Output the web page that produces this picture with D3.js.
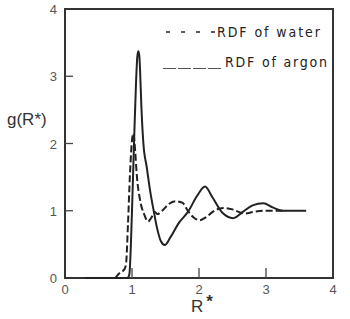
<!DOCTYPE html>
<html>
<head>
<meta charset="utf-8">
<script src="https://cdn.jsdelivr.net/npm/d3@7"></script>
<style>
  html, body { margin: 0; padding: 0; background: #fff; }
  svg { display: block; }
  .tick-label { font-family: "Liberation Sans", Arial, sans-serif; font-size: 13px; fill: #555; }
  .axis-title { font-family: "Liberation Sans", Arial, sans-serif; font-size: 17px; fill: #333; }
  .legend-text { font-family: "Liberation Sans Narrow", "DejaVu Sans Condensed", sans-serif; font-size: 14px; fill: #222; }
</style>
</head>
<body>
<svg id="chart" width="350" height="319"></svg>
<script>
"use strict";

// radial distribution function of argon (solid line)
const argonR = [0.30, 0.93, 0.96, 1.00, 1.03, 1.06, 1.08, 1.095, 1.11, 1.12, 1.14, 1.17, 1.22, 1.27, 1.32, 1.37, 1.43, 1.49, 1.57, 1.70, 1.84, 1.97, 2.09, 2.20, 2.35, 2.51, 2.65, 2.80, 2.96, 3.10, 3.25, 3.60];
const argonG = [0, 0, 0.05, 1.0, 2.0, 2.9, 3.3, 3.37, 3.3, 3.1, 2.55, 2.0, 1.65, 1.3, 1.02, 0.76, 0.55, 0.49, 0.6, 0.82, 0.99, 1.22, 1.36, 1.2, 0.97, 0.89, 0.98, 1.08, 1.11, 1.05, 1.0, 1.0];

// radial distribution function of water (dashed line)
const waterR = [0.75, 0.82, 0.88, 0.91, 0.94, 0.97, 1.00, 1.02, 1.05, 1.07, 1.12, 1.18, 1.24, 1.29, 1.34, 1.38, 1.45, 1.55, 1.65, 1.75, 1.84, 1.92, 2.01, 2.10, 2.20, 2.30, 2.39, 2.50, 2.60, 2.69, 2.80, 2.95, 3.30];
const waterG = [0, 0.08, 0.12, 0.2, 0.8, 1.55, 2.05, 2.15, 1.85, 1.55, 1.16, 0.95, 0.84, 0.9, 0.98, 0.95, 1.0, 1.1, 1.14, 1.12, 0.99, 0.9, 0.86, 0.9, 0.98, 1.03, 1.04, 1.02, 0.98, 0.96, 0.98, 1.0, 1.0];

const xTicks = [0, 1, 2, 3, 4];
const xTickLabels = ["0", "1", "2", "3", "4"];
const yTicks = [0, 1, 2, 3, 4];
const yTickLabels = ["0", "1", "2", "3", "4"];

const legendLabels = ["RDF of water", "RDF of argon"];

function main() {
    const left = 65, right = 333, top = 9, bottom = 278;

    const x = d3.scaleLinear().domain([0, 4]).range([left, right]);
    const y = d3.scaleLinear().domain([0, 4]).range([bottom, top]);

    const svg = d3.select("#chart");

    // frame
    svg.append("rect")
        .attr("x", left)
        .attr("y", top)
        .attr("width", right - left)
        .attr("height", bottom - top)
        .attr("fill", "none")
        .attr("stroke", "#333")
        .attr("stroke-width", 2);

    // x ticks (pointing inward) and labels
    const xg = svg.append("g");
    xTicks.forEach((t, i) => {
        if (t > 0 && t < 4) {
            xg.append("line")
                .attr("x1", x(t)).attr("x2", x(t))
                .attr("y1", bottom).attr("y2", bottom - 10)
                .attr("stroke", "#444").attr("stroke-width", 1.3);
        }
        xg.append("text")
            .attr("class", "tick-label")
            .attr("x", x(t))
            .attr("y", bottom + 16)
            .attr("text-anchor", "middle")
            .text(xTickLabels[i]);
    });

    // y ticks and labels
    const yg = svg.append("g");
    yTicks.forEach((t, i) => {
        if (t > 0 && t < 4) {
            yg.append("line")
                .attr("x1", left).attr("x2", left + 8)
                .attr("y1", y(t)).attr("y2", y(t))
                .attr("stroke", "#444").attr("stroke-width", 1.3);
        }
        yg.append("text")
            .attr("class", "tick-label")
            .attr("x", left - 8)
            .attr("y", y(t) + 5)
            .attr("text-anchor", "end")
            .text(yTickLabels[i]);
    });

    // axis titles
    svg.append("text")
        .attr("class", "axis-title")
        .attr("x", 7)
        .attr("y", 125)
        .text("g(R*)");

    const xTitle = svg.append("text")
        .attr("class", "axis-title")
        .attr("x", 191)
        .attr("y", 312);
    xTitle.append("tspan").text("R");
    xTitle.append("tspan").attr("dx", 3).attr("dy", -5).attr("font-weight", "bold").text("*");

    const line = d3.line()
        .x(d => x(d[0]))
        .y(d => y(d[1]))
        .curve(d3.curveMonotoneX);

    svg.append("path")
        .datum(argonR.map((r, i) => [r, argonG[i]]))
        .attr("d", line)
        .attr("fill", "none")
        .attr("stroke", "#222")
        .attr("stroke-width", 2);

    svg.append("path")
        .datum(waterR.map((r, i) => [r, waterG[i]]))
        .attr("d", line)
        .attr("fill", "none")
        .attr("stroke", "#222")
        .attr("stroke-width", 2)
        .attr("stroke-dasharray", "7,3");

    // legend
    const lg = svg.append("g");
    [166, 181, 196, 211].forEach(px => {
        lg.append("line")
            .attr("x1", px).attr("x2", px + 4)
            .attr("y1", 32).attr("y2", 32)
            .attr("stroke", "#222").attr("stroke-width", 1.5);
    });
    [163, 178, 193, 208].forEach(px => {
        lg.append("line")
            .attr("x1", px).attr("x2", px + 13)
            .attr("y1", 68.5).attr("y2", 68.5)
            .attr("stroke", "#555").attr("stroke-width", 1);
    });
    lg.append("text")
        .attr("class", "legend-text")
        .attr("x", 217)
        .attr("y", 37)
        .attr("textLength", 103)
        .attr("lengthAdjust", "spacing")
        .text(legendLabels[0]);
    lg.append("text")
        .attr("class", "legend-text")
        .attr("x", 225)
        .attr("y", 67)
        .attr("textLength", 102)
        .attr("lengthAdjust", "spacing")
        .text(legendLabels[1]);
}

main();
</script>
</body>
</html>
